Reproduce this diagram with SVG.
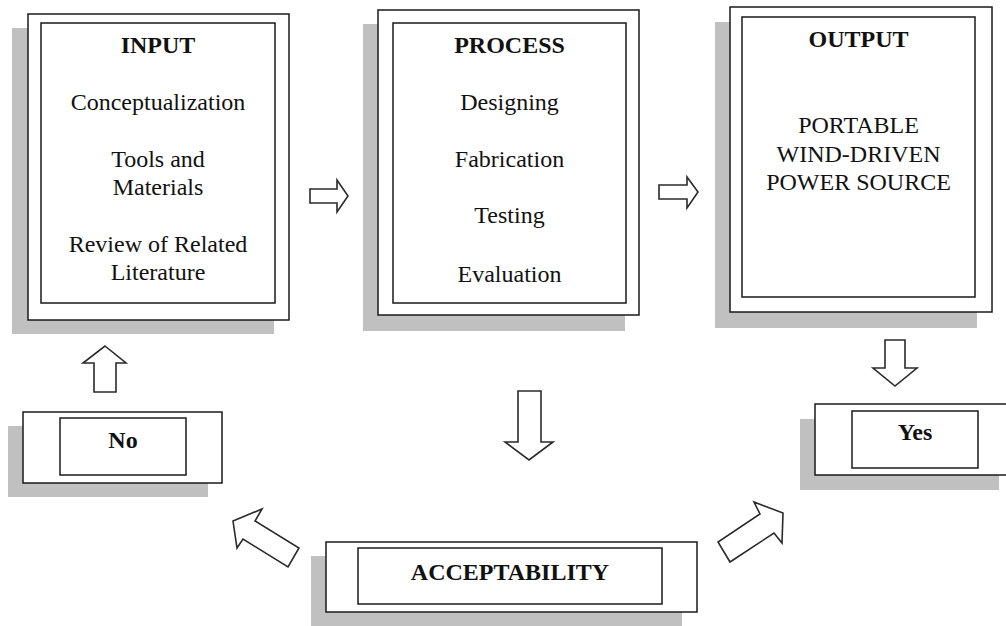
<svg xmlns="http://www.w3.org/2000/svg" width="1006" height="626" viewBox="0 0 1006 626">
<style>
.bg{fill:#ffffff}
.shadow{fill:#c0c0c0;stroke:none}
.outer{fill:#ffffff;stroke:#1a1a1a;stroke-width:1.5}
.inner{fill:#ffffff;stroke:#1a1a1a;stroke-width:1.5}
.arrow{fill:#ffffff;stroke:#2a2a2a;stroke-width:1.6;stroke-linejoin:miter}
text{font-family:"Liberation Serif","Times New Roman",serif;font-size:24px;fill:#111111;text-anchor:middle}
.b{font-weight:bold}
</style>
<rect class="bg" x="0" y="0" width="1006" height="626"/>
<g id="input">
<rect class="shadow" x="12" y="28" width="262" height="306"/>
<rect class="outer" x="28" y="14" width="261" height="306"/>
<rect class="inner" x="41" y="23" width="234" height="280"/>
<text class="b" x="158" y="53">INPUT</text>
<text x="158" y="110">Conceptualization</text>
<text x="158" y="167">Tools and</text>
<text x="158" y="195">Materials</text>
<text x="158" y="252">Review of Related</text>
<text x="158" y="280">Literature</text>
</g>
<g id="process">
<rect class="shadow" x="363" y="24" width="262" height="307"/>
<rect class="outer" x="378" y="10" width="261" height="305"/>
<rect class="inner" x="393" y="23" width="233" height="280"/>
<text class="b" x="509.5" y="53">PROCESS</text>
<text x="509.5" y="110">Designing</text>
<text x="509.5" y="167">Fabrication</text>
<text x="509.5" y="223">Testing</text>
<text x="509.5" y="282">Evaluation</text>
</g>
<g id="output">
<rect class="shadow" x="715" y="22" width="262" height="306"/>
<rect class="outer" x="730" y="7" width="262" height="305"/>
<rect class="inner" x="742" y="17" width="233" height="280"/>
<text class="b" x="858.5" y="47">OUTPUT</text>
<text x="858.5" y="133">PORTABLE</text>
<text x="858.5" y="162">WIND-DRIVEN</text>
<text x="858.5" y="190">POWER SOURCE</text>
</g>
<g id="no">
<rect class="shadow" x="8" y="426" width="200" height="71"/>
<rect class="outer" x="23" y="412" width="199" height="71"/>
<rect class="inner" x="60" y="418" width="126" height="57"/>
<text class="b" x="123" y="448">No</text>
</g>
<g id="yes">
<rect class="shadow" x="800" y="419" width="199" height="71"/>
<rect class="outer" x="815" y="404" width="199" height="71"/>
<rect class="inner" x="852" y="411" width="126" height="57"/>
<text class="b" x="915" y="440">Yes</text>
</g>
<g id="acceptability">
<rect class="shadow" x="311" y="556" width="371" height="70"/>
<rect class="outer" x="326" y="542" width="371" height="70"/>
<rect class="inner" x="358" y="548" width="304" height="56"/>
<text class="b" x="510" y="580">ACCEPTABILITY</text>
</g>
<g id="connectors">
<polygon class="arrow" points="310,189 337,189 337,180 348,196 337,212 337,203 310,203"/>
<polygon class="arrow" points="659,185 687,185 687,177 698,192 687,208 687,199 659,199"/>
<polygon class="arrow" points="518,391 541,391 541,442 553,442 529,460 505,442 518,442"/>
<polygon class="arrow" points="885,340 905,340 905,368 917,368 895,386 873,368 885,368"/>
<polygon class="arrow" points="105,346 126,363 116,363 116,392 94,392 94,363 83,363"/>
<polygon class="arrow" points="233,521 262,509 255,521 299,548 288,567 243,539 237,548"/>
<polygon class="arrow" points="730,562 718,542 760,514 754,502 783,513 782,543 774,533"/>
</g>
</svg>
